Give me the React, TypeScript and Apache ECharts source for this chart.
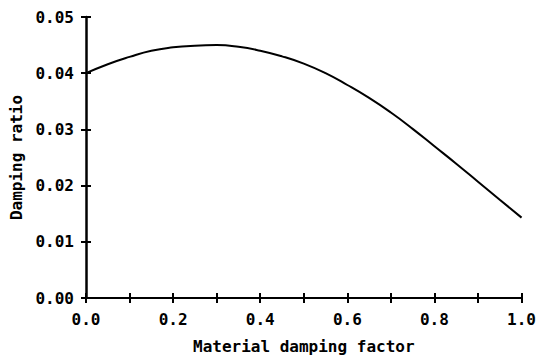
import React, { useEffect, useRef } from "react";
import * as echarts from "echarts";

const xValues = [0, 0.05, 0.1, 0.15, 0.2, 0.25, 0.3, 0.35, 0.4, 0.45, 0.5, 0.55, 0.6, 0.65, 0.7, 0.75, 0.8, 0.85, 0.9, 0.95, 1.0];
const dampingRatio = [0.04, 0.0416, 0.0429, 0.044, 0.0446, 0.0449, 0.045, 0.0447, 0.044, 0.043, 0.0417, 0.04, 0.0379, 0.0356, 0.033, 0.0301, 0.027, 0.0239, 0.0207, 0.0175, 0.0143];
const xTitle = "Material damping factor";
const yTitle = "Damping ratio";

const FONT = "DejaVu Sans Mono";

export default function App() {
  const ref = useRef<HTMLDivElement>(null);
  useEffect(() => {
    if (!ref.current) return;
    const chart = echarts.init(ref.current, undefined, { renderer: "svg" });
    const axisCommon = {
      type: "value" as const,
      axisLine: { show: true, lineStyle: { color: "#000", width: 2 } },
      splitLine: { show: false },
    };
    const textStyle = { fontFamily: FONT, fontWeight: "bold" as const, fontSize: 16, color: "#000" };
    chart.setOption({
      animation: false,
      backgroundColor: "#fff",
      grid: { left: 85, right: 15, top: 17, bottom: 61 },
      xAxis: [
        {
          ...axisCommon,
          min: 0,
          max: 1,
          interval: 0.1,
          name: xTitle,
          nameLocation: "middle",
          nameGap: 40,
          nameTextStyle: textStyle,
          axisTick: { show: true, length: 5, lineStyle: { color: "#000", width: 2 } },
          axisLabel: {
            ...textStyle,
            margin: 13,
            formatter: (v: number) => (Math.round(v * 10) % 2 === 0 ? v.toFixed(1) : ""),
          },
        },
        {
          ...axisCommon,
          min: 0,
          max: 1,
          interval: 0.1,
          position: "bottom",
          axisLine: { show: false },
          axisTick: { show: true, inside: true, length: 5, lineStyle: { color: "#000", width: 2 } },
          axisLabel: { show: false },
        },
      ],
      yAxis: [
        {
          ...axisCommon,
          min: 0,
          max: 0.05,
          interval: 0.01,
          name: yTitle,
          nameLocation: "middle",
          nameGap: 62,
          nameTextStyle: textStyle,
          axisLine: { show: true, lineStyle: { color: "#000", width: 2.5 } },
          axisTick: { show: true, length: 5, lineStyle: { color: "#000", width: 2 } },
          axisLabel: {
            ...textStyle,
            margin: 12,
            formatter: (v: number) => v.toFixed(2),
          },
        },
        {
          ...axisCommon,
          min: 0,
          max: 0.05,
          interval: 0.01,
          position: "left",
          axisLine: { show: false },
          axisTick: { show: true, inside: true, length: 5, lineStyle: { color: "#000", width: 2 } },
          axisLabel: { show: false },
        },
      ],
      series: [
        {
          type: "line",
          xAxisIndex: 0,
          yAxisIndex: 0,
          data: xValues.map((x, i) => [x, dampingRatio[i]]),
          smooth: true,
          showSymbol: false,
          lineStyle: { color: "#000", width: 2 },
        },
      ],
    });
    return () => chart.dispose();
  }, []);
  return <div ref={ref} style={{ width: 539, height: 359, position: "absolute", left: 0, top: 0 }} />;
}
